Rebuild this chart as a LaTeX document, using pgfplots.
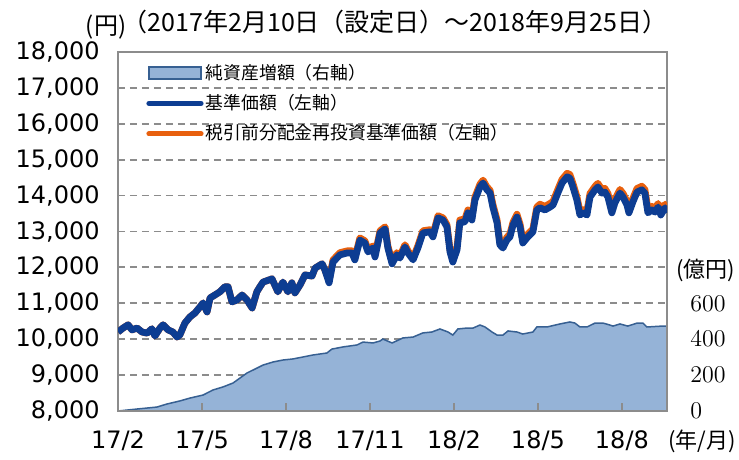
\documentclass[border=0pt]{standalone}
\usepackage{pgfplots}
\pgfplotsset{compat=1.18}
\usepackage{pgfplotstable}
\usepackage{fontspec}
\setmainfont{DejaVu Sans}
\newfontfamily\jp{Noto Sans CJK JP}
\definecolor{areafill}{HTML}{95B3D7}
\definecolor{areaedge}{HTML}{376092}
\definecolor{navline}{HTML}{0D3D92}
\definecolor{preline}{HTML}{E8600E}
\definecolor{gridgray}{HTML}{8C8C8C}

\pgfplotstableread{
m nav pre
0.00 10200 10200
0.18 10310 10310
0.36 10400 10400
0.50 10260 10260
0.68 10310 10310
0.86 10200 10200
1.04 10170 10170
1.21 10290 10290
1.32 10090 10090
1.50 10310 10310
1.61 10400 10400
1.79 10260 10260
1.96 10200 10200
2.11 10060 10060
2.21 10120 10120
2.39 10450 10450
2.57 10620 10620
2.75 10730 10730
2.93 10900 10900
3.04 11010 11010
3.18 10760 10760
3.29 11150 11150
3.46 11230 11230
3.64 11320 11320
3.82 11460 11460
3.93 11460 11460
4.07 11040 11040
4.25 11090 11090
4.43 11230 11230
4.61 11090 11090
4.79 10870 10870
4.96 11320 11320
5.07 11460 11460
5.18 11590 11590
5.50 11680 11680
5.71 11320 11320
5.89 11590 11590
6.07 11320 11320
6.21 11570 11570
6.32 11290 11290
6.50 11510 11510
6.68 11790 11790
6.93 11760 11760
7.04 11980 11980
7.29 12100 12100
7.39 11930 11930
7.54 11570 11630
7.68 12150 12210
7.93 12350 12410
8.18 12400 12460
8.36 12400 12460
8.46 12210 12270
8.64 12760 12820
8.82 12680 12740
8.93 12430 12490
9.11 12540 12600
9.18 12290 12350
9.36 12960 13020
9.54 13070 13130
9.64 12540 12600
9.79 12100 12160
9.96 12350 12410
10.07 12260 12320
10.25 12570 12630
10.36 12400 12460
10.54 12210 12270
10.71 12540 12600
10.89 12960 13020
11.14 12990 13050
11.25 12850 12910
11.43 13380 13440
11.61 13320 13380
11.75 13130 13190
11.86 12430 12490
11.96 12150 12210
12.11 12490 12570
12.21 13240 13320
12.39 13270 13350
12.50 13520 13600
12.64 13320 13400
12.75 13880 13960
12.93 14240 14320
13.04 14350 14430
13.18 14160 14240
13.29 14070 14150
13.39 13680 13760
13.54 13240 13320
13.64 12630 12710
13.75 12540 12620
13.89 12760 12840
14.00 12850 12930
14.11 13180 13260
14.25 13400 13480
14.36 13130 13210
14.46 12680 12760
14.64 12850 12930
14.82 12990 13070
14.96 13600 13680
15.07 13660 13760
15.25 13600 13700
15.43 13680 13780
15.54 13740 13840
15.71 14070 14170
15.86 14350 14450
16.04 14520 14620
16.14 14490 14590
16.25 14240 14340
16.39 13880 13980
16.50 13460 13560
16.61 13520 13620
16.75 13460 13560
16.86 13960 14060
17.04 14160 14260
17.14 14240 14340
17.29 14070 14170
17.39 14100 14200
17.50 13960 14060
17.64 13520 13620
17.75 13800 13900
17.93 14070 14170
18.04 13960 14060
18.18 13740 13840
18.25 13520 13620
18.39 13820 13920
18.54 14100 14200
18.71 14160 14260
18.82 14070 14170
18.93 13520 13620
19.07 13600 13700
19.18 13540 13640
19.29 13680 13780
19.39 13460 13560
19.54 13660 13760
19.61 13520 13620
}\navtable

\pgfplotstableread{
m aum
0.00 0
0.68 11
1.39 22
1.75 39
2.21 56
2.57 72
3.04 89
3.39 117
3.75 134
4.11 156
4.36 184
4.61 212
4.82 228
5.18 256
5.54 273
5.89 284
6.25 290
6.61 301
6.96 312
7.46 323
7.64 345
8.04 357
8.54 368
8.75 384
9.11 379
9.36 390
9.46 401
9.79 379
10.18 407
10.54 412
10.89 435
11.21 440
11.50 457
11.79 440
11.96 423
12.14 457
12.46 462
12.68 462
12.93 479
13.11 468
13.36 440
13.54 423
13.75 423
13.93 446
14.25 440
14.46 429
14.82 440
14.96 468
15.32 468
15.79 485
16.14 496
16.32 490
16.50 468
16.75 468
17.04 490
17.32 490
17.57 479
17.68 473
17.93 485
18.21 473
18.54 490
18.75 490
18.89 468
19.43 473
19.61 473
}\aumtable

\pgfplotsset{base/.style={scale only axis, width=274.5pt, height=179.5pt,
  xmin=0, xmax=19.61, at={(0,0)}, anchor=south west,
  scaled y ticks=false, scaled x ticks=false},
  arealeg/.style={legend image code/.code={\draw[##1] (0pt,-3pt) rectangle (26pt,3pt);}},
  lineleg/.style={legend image code/.code={\draw[##1] (0pt,0pt) -- (26pt,0pt);}}}

\begin{document}
\begin{tikzpicture}
\useasboundingbox (-59pt,-24.5pt) rectangle (310.5pt,205.5pt);
% axis A: frame, grid, left and bottom labels
\begin{axis}[base, ymin=8000, ymax=18000,
  ytick={8000,9000,10000,11000,12000,13000,14000,15000,16000,17000,18000},
  yticklabels={{8,000},{9,000},{10,000},{11,000},{12,000},{13,000},{14,000},{15,000},{16,000},{17,000},{18,000}},
  ymajorgrids,
  grid style={gridgray, line width=0.9pt, dash pattern=on 3.5pt off 2.5pt},
  axis line style={gridgray, line width=0.9pt},
  xtick={0,3,6,9,12,15,18},
  xticklabels={17/2,17/5,17/8,17/11,18/2,18/5,18/8},
  xtick pos=bottom, ytick pos=left, tick align=inside,
  ytick style={draw=none}, xtick style={draw=none},
  tick label style={font=\fontsize{12}{14}\selectfont, inner sep=0pt},
  yticklabel style={anchor=east, xshift=-9pt},
  xticklabel style={anchor=base, yshift=-19pt},
]
\end{axis}
% axis B: right scale, area
\begin{axis}[base, ymin=0, ymax=2000, axis on top,
  axis x line*=bottom, axis y line*=right,
  axis line style={gridgray, line width=0.9pt, -},
  xtick={0,3,6,9,12,15,18}, xticklabels={},
  ytick={0,200,400,600},
  tick align=inside, major tick length=3.8pt,
  xtick style={gridgray, line width=0.9pt},
  ytick style={draw=none},
  tick label style={font=\fontsize{12}{14}\selectfont, inner sep=0pt},
  yticklabel style={anchor=west, xshift=11.5pt},
  legend style={draw=none, fill=none, at={(0.051,0.968)}, anchor=north west,
    inner sep=0pt, font=\jp\fontsize{8.9}{10}\selectfont, row sep=6.1pt,
    nodes={inner sep=0pt}, /tikz/every odd column/.append style={column sep=1.2pt}},
  legend cell align=left,
]
\addplot[fill=areafill, draw=areaedge, line width=0.75pt, arealeg]
  table[x=m, y=aum] {\aumtable} \closedcycle;
\addlegendentry{純資産増額（右軸）}
\addlegendimage{navline, line width=2.6pt, line cap=round, lineleg}
\addlegendentry{基準価額（左軸）}
\addlegendimage{preline, line width=2.6pt, line cap=round, lineleg}
\addlegendentry{税引前分配金再投資基準価額（左軸）}
\end{axis}
% axis C: lines
\begin{axis}[base, ymin=8000, ymax=18000, hide axis]
\addplot[preline, line width=3.4pt, line join=round] table[x=m, y=pre] {\navtable};
\addplot[navline, line width=3.4pt, line join=round] table[x=m, y=nav] {\navtable};
\end{axis}
\node[font=\jp\fontsize{12.5}{14}\selectfont] at (138.5pt,194.5pt) {（2017年2月10日（設定日）～2018年9月25日）};
\node[font=\jp\fontsize{12}{14}\selectfont] at (-6pt,192pt) {(円)};
\node[anchor=west, font=\jp\fontsize{11}{13}\selectfont, inner sep=0pt] at (279pt,70.5pt) {(億円)};
\node[anchor=base west, font=\jp\fontsize{11}{13}\selectfont, inner sep=0pt] at (275pt,-19pt) {(年/月)};
\end{tikzpicture}
\end{document}
